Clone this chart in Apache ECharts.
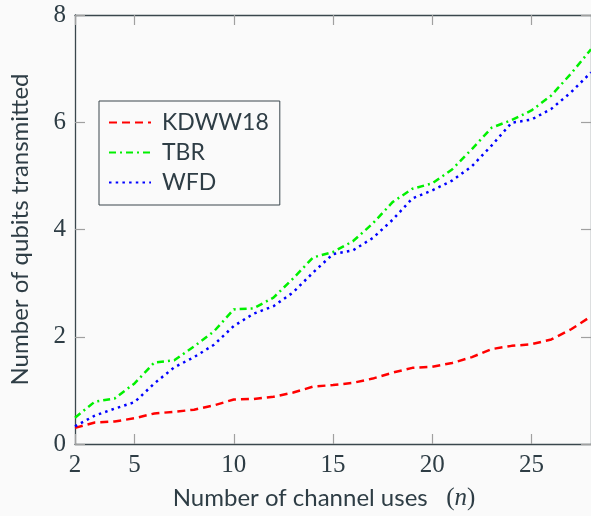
<!DOCTYPE html>
<html>
<head>
<meta charset="utf-8">
<script src="https://cdn.jsdelivr.net/npm/echarts@6/dist/echarts.min.js"></script>
<style>
html,body{margin:0;padding:0;background:#fafafa;}
#chart{width:591px;height:516px;}
</style>
</head>
<body>
<div id="chart"></div>
<script>
// Data
const channelUses = [2,3,4,5,6,7,8,9,10,11,12,13,14,15,16,17,18,19,20,21,22,23,24,25,26,27,28];
const kdww18 = [0.30,0.40,0.42,0.48,0.57,0.60,0.64,0.72,0.83,0.84,0.88,0.96,1.07,1.10,1.14,1.22,1.33,1.42,1.44,1.51,1.62,1.77,1.83,1.86,1.95,2.14,2.38];
const tbr    = [0.49,0.79,0.85,1.13,1.52,1.56,1.82,2.10,2.51,2.53,2.73,3.09,3.48,3.58,3.78,4.11,4.51,4.76,4.86,5.12,5.50,5.90,6.04,6.22,6.50,6.91,7.36];
const wfd    = [0.33,0.53,0.66,0.78,1.13,1.43,1.62,1.85,2.20,2.43,2.57,2.83,3.20,3.54,3.61,3.84,4.18,4.58,4.73,4.91,5.18,5.57,5.99,6.05,6.25,6.56,6.93];
const seriesNames = ['KDWW18','TBR','WFD'];
const xTicks = [2,5,10,15,20,25];
const yTicks = [0,2,4,6,8];

const TEXT = '#2e3d45';
const AXIS = '#3a474d';
const TICK = '#a0a0a0';
const SERIF = 'Liberation Serif';
const SANS = 'Lato';

const pairs = arr => channelUses.map((n, i) => [n, arr[i]]);

const chart = echarts.init(document.getElementById('chart'), null, {renderer: 'canvas'});
const baseX = {
  type: 'value', min: 2, max: 28,
  splitLine: {show: false}
};
chart.setOption({
  backgroundColor: '#fafafa',
  animation: false,
  grid: {left: 73, top: 15, right: -1, bottom: 72, containLabel: false},
  legend: {
    orient: 'vertical', left: 99, top: 101,
    data: seriesNames,
    itemWidth: 42, itemHeight: 24, itemGap: 7,
    padding: [10, 11, 11, 9],
    borderColor: AXIS, borderWidth: 1,
    backgroundColor: '#fafafa',
    itemStyle: {opacity: 0},
    textStyle: {fontFamily: SANS, fontSize: 23, color: TEXT, padding: [0, 0, 0, 6]}
  },
  xAxis: [
    Object.assign({}, baseX, {
      position: 'bottom',
      name: 'Number of channel uses   {m|(}{i|n}{m|)}',
      nameLocation: 'middle', nameGap: 42,
      nameTextStyle: {
        fontFamily: SANS, fontSize: 24, color: TEXT, padding: [0, 18, 0, 0],
        rich: {
          m: {fontFamily: SERIF, fontSize: 25, color: TEXT},
          i: {fontFamily: SERIF, fontStyle: 'italic', fontSize: 25, color: TEXT}
        }
      },
      axisLine: {show: true, onZero: false, lineStyle: {color: AXIS, width: 1.3}},
      axisTick: {show: true, inside: true, length: 10, customValues: xTicks, lineStyle: {color: TICK, width: 1.2}},
      axisLabel: {show: true, customValues: xTicks, margin: 9, fontFamily: SERIF, fontSize: 25, color: TEXT}
    }),
    Object.assign({}, baseX, {
      position: 'top',
      axisLine: {show: true, onZero: false, lineStyle: {color: AXIS, width: 1.3}},
      axisTick: {show: true, inside: true, length: 10, customValues: xTicks, lineStyle: {color: TICK, width: 1.2}},
      axisLabel: {show: false}
    })
  ],
  yAxis: [
    {
      type: 'value', min: 0, max: 8, interval: 2, position: 'left',
      name: 'Number of qubits transmitted',
      nameLocation: 'middle', nameGap: 43, nameRotate: 90,
      nameTextStyle: {fontFamily: SANS, fontSize: 24, color: TEXT},
      splitLine: {show: false},
      axisLine: {show: true, onZero: false, lineStyle: {color: AXIS, width: 1.3}},
      axisTick: {show: true, inside: true, length: 10, lineStyle: {color: TICK, width: 1.2}},
      axisLabel: {show: true, margin: 9, fontFamily: SERIF, fontSize: 25, color: TEXT,
        formatter: v => yTicks.includes(v) ? String(v) : ''}
    },
    {
      type: 'value', min: 0, max: 8, interval: 2, position: 'right',
      splitLine: {show: false},
      axisLine: {show: true, onZero: false, lineStyle: {color: AXIS, width: 1.3}},
      axisTick: {show: true, inside: true, length: 10, lineStyle: {color: TICK, width: 1.2}},
      axisLabel: {show: false}
    }
  ],
  series: [
    {
      name: seriesNames[0], type: 'line', data: pairs(kdww18),
      symbol: 'none', showSymbol: false,
      lineStyle: {color: '#ff0000', width: 2.5, type: [8, 5]},
      itemStyle: {color: '#ff0000'}
    },
    {
      name: seriesNames[1], type: 'line', data: pairs(tbr),
      symbol: 'none', showSymbol: false,
      lineStyle: {color: '#00f000', width: 2.5, type: [7, 4, 2, 4]},
      itemStyle: {color: '#00f000'}
    },
    {
      name: seriesNames[2], type: 'line', data: pairs(wfd),
      symbol: 'none', showSymbol: false,
      lineStyle: {color: '#0000ff', width: 2.5, type: [2.5, 4.2]},
      itemStyle: {color: '#0000ff'}
    }
  ]
});
</script>
</body>
</html>
